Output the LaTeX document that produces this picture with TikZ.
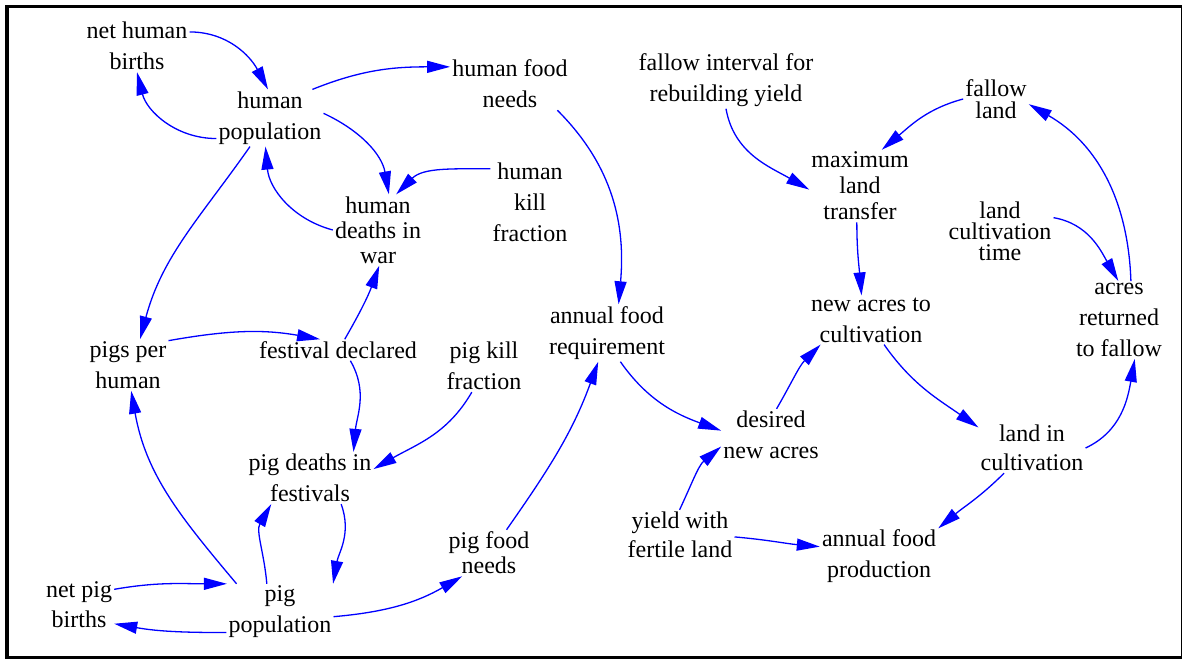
\documentclass[tikz,border=0pt]{standalone}
\usepackage{fontspec}
\setmainfont{Liberation Serif}
\usetikzlibrary{arrows.meta}

\begin{document}
\begin{tikzpicture}[x=1pt, y=1pt,
        qty/.style={align=center, inner sep=2pt, font=\fontsize{24}{#1}\selectfont},
        qty/.default=31,
        link/.style={-{Triangle[length=23pt, width=12pt]}, line width=1.3pt, blue}
    ]
        \useasboundingbox (0,0) rectangle (1183,-659);
        \draw[line width=3.5pt] (1181,-6.5) -- (7,-6.5) -- (7,-657.5) -- (1181,-657.5);
        \draw[line width=1.2pt] (1181.5,-5) -- (1181.5,-659);

        \node[qty] (nhb) at (137,-46) {net human\\births};
        \node[qty] (hp) at (270,-118) {human\\population};
        \node[qty] (hfn) at (510,-84) {human food\\needs};
        \node[qty] (fir) at (726,-80) {fallow interval for\\rebuilding yield};
        \node[qty=22] (fl) at (996,-99) {fallow\\land};
        \node[qty=26] (mlt) at (860,-186) {maximum\\land\\transfer};
        \node[qty=25] (hdw) at (378,-230) {human\\deaths in\\war};
        \node[qty] (hkf) at (530,-202) {human\\kill\\fraction};
        \node[qty=21] (lct) at (1000,-231) {land\\cultivation\\time};
        \node[qty] (arf) at (1119,-320) {acres\\returned\\to fallow};
        \node[qty] (nac) at (871,-320) {new acres to\\cultivation};
        \node[qty] (afr) at (607,-333) {annual food\\requirement};
        \node[qty] (pph) at (128,-365) {pigs per\\human};
        \node[qty] (fd) at (338,-350) {festival declared};
        \node[qty] (pkf) at (484,-366) {pig kill\\fraction};
        \node[qty] (dna) at (771,-435) {desired\\new acres};
        \node[qty=29] (lic) at (1032,-448) {land in\\cultivation};
        \node[qty] (pdf) at (310,-478) {pig deaths in\\festivals};
        \node[qty=29] (yfl) at (680,-535) {yield with\\fertile land};
        \node[qty] (afp) at (879,-556) {annual food\\production};
        \node[qty=25] (pfn) at (489,-553) {pig food\\needs};
        \node[qty=30] (npb) at (79,-605) {net pig\\births};
        \node[qty] (pp) at (280,-612) {pig\\population};

        \draw[link] (nhb.15) to[out=0,in=118] (hp.94);
        \draw[link] (hp.201) to[out=180,in=-76] (nhb.270);
        \draw[link] (hp.34) to[out=22,in=180] (hfn.164);
        \draw[link] (hp.5) to[out=-25,in=100] (hdw.73);
        \draw[link] (hkf.140) to[out=180,in=45] (hdw.63);
        \draw[link] (hdw.180) to[out=165,in=-85] (hp.261);
        \draw[link] (hp.235) to[out=235,in=75] (pph.65);
        \draw[link] (hfn.331) to[out=-45,in=85] (afr.68);
        \draw[link] (fir.270) to[out=-80,in=150] (mlt.184);
        \draw[link] (fl.180) to[out=195,in=40] (mlt.59);
        \draw[link] (mlt.265) to[out=-90,in=95] (nac.111);
        \draw[link] (lct.14) to[out=-10,in=120] (arf.91);
        \draw[link] (arf.73) to[out=92,in=-30] (fl.351);
        \draw[link] (pph.31) to[out=10,in=170] (fd.149);
        \draw[link] (fd.58) to[out=60,in=-110] (hdw.-88);
        \draw[link] (fd.-41) to[out=-60,in=85] (pdf.31);
        \draw[link] (pkf.245) to[out=-120,in=30] (pdf.8);
        \draw[link] (pp.147) to[out=130,in=-80] (pph.277);
        \draw[link] (pp.115) to[out=95,in=-120] (pdf.214);
        \draw[link] (pdf.320) to[out=-70,in=80] (pp.28);
        \draw[link] (npb.24) to[out=10,in=180] (pp.152);
        \draw[link] (pp.201) to[out=180,in=-10] (npb.332);
        \draw[link] (pp.355) to[out=5,in=210] (pfn.221);
        \draw[link] (pfn.53) to[out=55,in=-110] (afr.253);
        \draw[link] (afr.295) to[out=-55,in=160] (dna.175);
        \draw[link] (yfl.91) to[out=65,in=220] (dna.193);
        \draw[link] (dna.78) to[out=60,in=225] (nac.206);
        \draw[link] (nac.298) to[out=-55,in=145] (lic.159);
        \draw[link] (lic.0) to[out=25,in=-100] (arf.292);
        \draw[link] (lic.222) to[out=-135,in=40] (afp.25);
        \draw[link] (yfl.358) to[out=-5,in=175] (afp.171);
\end{tikzpicture}
\end{document}
